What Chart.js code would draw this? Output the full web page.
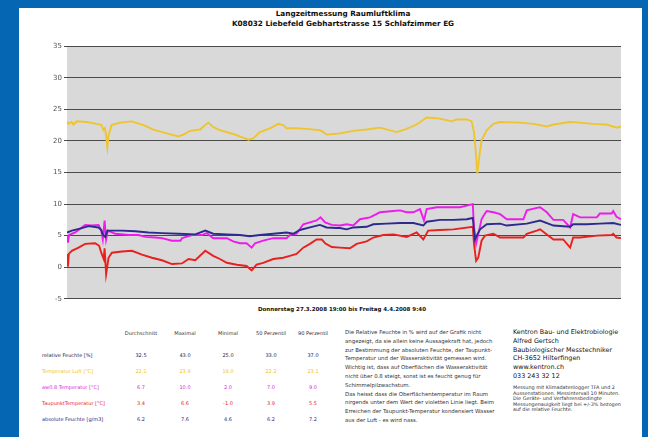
<!DOCTYPE html>
<html>
<head>
<meta charset="utf-8">
<script src="https://cdn.jsdelivr.net/npm/chart.js@4/dist/chart.umd.min.js"></script>
<style>
  body { margin:0; width:648px; height:437px; background:#0567b4; overflow:hidden; font-family:"DejaVu Sans", Tahoma, sans-serif; }
  #seite { position:absolute; left:19px; top:8px; width:623px; height:429px; background:#fff; }
  .t { position:absolute; white-space:nowrap; color:#222; }
  .c { transform:translateX(-50%); }
  #titel { left:343px; text-align:center; font-weight:bold; font-size:7.3px; line-height:10px; top:9px; color:#111; }
  #wrap { position:absolute; left:19px; top:40px; width:623px; height:265px; }
  #datum { top:306px; left:342px; font-weight:bold; font-size:5.5px; color:#111; }
  .kopf { top:330px; font-size:5.1px; color:#333; }
  .zeile { font-size:5px; }
  #text { left:345px; top:328px; font-size:5.4px; line-height:8.8px; color:#333; }
  #firma { left:513px; top:328px; font-size:6.4px; line-height:8.8px; color:#111; }
  #klein { left:513px; top:385px; font-size:4.9px; line-height:5.6px; color:#333; }
</style>
</head>
<body>
<div id="seite"></div>
<div class="t c" id="titel">Langzeitmessung Raumluftklima<br>K08032 Liebefeld Gebhartstrasse 15 Schlafzimmer EG</div>
<div id="wrap"><canvas id="myChart" width="623" height="265"></canvas></div>
<div class="t c" id="datum">Donnerstag 27.3.2008 19:00 bis Freitag 4.4.2008 9:40</div>
<div id="tabelle"></div>
<div class="t" id="text">Die Relative Feuchte in % wird auf der Grafik nicht<br>angezeigt, da sie allein keine Aussagekraft hat, jedoch<br>zur Bestimmung der absoluten Feuchte, der Taupunkt-<br>Temperatur und der Wasseraktivität gemessen wird.<br>Wichtig ist, dass auf Oberflächen die Wasseraktivität<br>nicht über 0.8 steigt, sonst ist es feucht genug für<br>Schimmelpilzwachstum.<br>Das heisst dass die Oberflächentemperatur im Raum<br>nirgends unter dem Wert der violetten Linie liegt. Beim<br>Erreichen der Taupunkt-Temperatur kondensiert Wasser<br>aus der Luft - es wird nass.</div>
<div class="t" id="firma">Kentron Bau- und Elektrobiologie<br>Alfred Gertsch<br>Baubiologischer Messtechniker<br>CH-3652 Hilterfingen<br>www.kentron.ch<br>033 243 32 12</div>
<div class="t" id="klein">Messung mit Klimadatenlogger TFA und 2<br>Aussenstationen. Messintervall 10 Minuten.<br>Die Geräte- und Verfahrensbedingte<br>Messungenauigkeit liegt bei +/-3% bezogen<br>auf die relative Feuchte.</div>
<script>
  // Stunden seit Donnerstag 27.3.2008 19:00
  var dauer = 182.67;

  var luftStunden = [0,0.4,1.5,2.1,3.2,6.5,9.8,11.4,12.0,12.5,12.9,13.3,13.7,14.7,17.5,21.3,25.2,28.5,32.9,36.7,38.4,40.6,43.9,45.5,46.6,48.2,50.4,54.8,59.8,61.4,63.6,66.9,69.7,71.3,72.4,75.7,79.0,83.4,84.5,85.6,87.8,90.0,94.4,98.8,103.2,108.7,112.0,115.3,118.6,121.9,125.2,126.8,128.5,131.8,133.4,134.2,134.8,135.3,136.0,136.7,138.4,140.6,142.8,149.4,153.8,158.2,160.4,165.9,169.2,173.5,177.9,181.3,182.67];
  var luftWerte = [23.1,22.7,23.0,22.6,23.1,23.0,22.7,22.5,21.7,22.0,20.9,19.0,20.9,22.5,22.9,23.1,22.5,21.8,21.2,20.7,21.0,21.6,21.8,22.5,22.9,22.2,21.7,21.1,20.2,20.4,21.4,22.0,22.7,22.5,22.0,22.0,21.9,21.7,21.4,21.0,21.1,21.2,21.6,21.8,22.1,21.4,21.9,22.6,23.7,23.6,23.3,23.1,23.4,23.4,23.1,21.4,18.2,14.8,17.7,20.1,21.7,22.7,23.0,22.9,22.7,22.3,22.6,23.0,22.9,22.7,22.6,22.1,22.3];

  var taupunktStunden = [0,0.3,0.6,1.6,3.8,6.0,9.3,10.6,11.3,12.1,12.4,12.9,13.7,14.8,18.1,21.4,24.7,28.0,31.3,34.6,37.9,40.1,42.3,45.6,48.2,50.4,52.7,56.0,59.2,60.9,62.5,64.7,68.0,71.3,73.5,75.7,77.9,80.1,82.3,84.0,85.1,87.3,90.0,93.3,95.5,98.8,101.0,104.3,107.6,112.0,115.3,117.5,119.1,123.0,127.4,133.8,134.2,134.9,135.6,136.7,137.8,140.6,142.8,150.5,151.6,154.9,156.0,158.2,160.4,163.6,165.9,166.9,169.2,174.7,179.6,180.1,181.2,182.67];
  var taupunktWerte = [2.1,0.1,2.1,2.6,3.1,3.7,3.8,3.4,2.3,1.3,3.0,-1.1,1.5,2.3,2.5,2.6,2.0,1.5,1.1,0.5,0.6,1.3,1.1,2.6,1.8,1.3,0.7,0.4,0.2,-0.5,0.4,0.7,1.3,1.5,1.8,2.1,3.1,3.7,4.4,4.4,3.8,3.2,3.1,3.0,3.7,4.1,4.7,5.1,5.2,4.8,5.5,4.4,5.8,5.9,6.0,6.4,3.7,1.0,1.5,4.2,5.0,5.3,4.7,4.7,5.3,5.8,6.0,5.2,4.4,4.4,3.1,4.7,4.7,5.0,5.1,5.3,4.7,4.6];

  var aw08Stunden = [0,0.3,0.7,2.7,4.9,6.0,8.2,10.4,11.3,11.8,12.4,12.9,13.5,15.9,20.3,23.6,25.8,29.1,31.3,34.6,37.4,37.9,41.2,44.5,46.1,48.2,52.7,54.8,57.0,59.2,60.9,62.0,64.7,68.0,72.4,73.5,75.7,77.9,80.1,82.3,83.6,85.1,87.3,90.0,92.2,94.4,96.6,99.9,103.2,107.6,109.8,112.0,114.2,116.4,117.7,118.6,121.9,129.6,133.8,134.2,134.9,135.6,136.7,137.3,138.4,140.6,142.8,145.0,150.5,151.6,154.9,156.0,158.2,160.4,163.6,165.9,166.9,169.2,174.7,175.7,179.6,180.1,181.2,182.67];
  var aw08Werte = [5.0,3.9,5.1,5.5,6.3,6.7,6.6,6.7,5.8,4.4,7.4,4.4,5.8,5.3,5.1,5.1,4.8,4.7,4.6,4.2,4.2,4.6,5.1,5.1,5.4,4.6,4.6,4.1,3.8,3.8,3.1,3.8,4.2,4.6,4.6,5.1,5.3,6.8,7.1,7.4,7.9,7.1,6.7,6.6,6.8,6.6,7.6,7.9,8.7,8.9,9.0,8.7,8.7,9.2,7.4,9.2,9.5,9.5,10.0,6.3,3.7,5.2,7.6,8.1,8.9,8.7,8.4,7.6,7.6,9.0,9.4,9.5,8.7,7.5,7.5,6.3,8.4,7.9,7.9,8.5,8.5,8.9,8.0,7.6];

  var absStunden = [0,1.6,4.9,7.1,10.4,11.3,11.8,12.6,13.3,13.7,18.1,22.5,26.9,31.3,36.8,42.3,45.6,48.2,52.7,57.0,60.3,63.6,68.0,72.4,74.6,76.8,80.1,83.4,85.6,88.9,90.0,92.2,94.4,98.8,101.0,105.4,109.8,114.2,117.5,118.6,123.0,127.4,131.8,133.8,134.5,135.3,136.2,138.4,142.8,145.0,151.6,156.0,160.4,165.9,166.9,171.4,175.7,180.1,182.67];
  var absWerte = [5.5,5.8,6.2,6.5,6.3,5.9,5.2,4.8,5.8,5.8,5.8,5.7,5.5,5.4,5.3,5.2,5.8,5.3,5.2,5.1,4.9,5.1,5.3,5.5,5.3,5.9,6.3,6.7,6.3,6.2,6.2,6.0,6.3,6.4,6.8,6.9,7.0,7.0,6.6,7.2,7.5,7.5,7.6,7.8,4.4,5.2,6.0,6.8,6.9,6.6,6.9,7.4,6.6,6.4,6.8,6.8,6.9,7.0,6.7];

  var yTicks = [-5,0,5,10,15,20,25,30,35];

  // Tabelle
  var spalten = ["Durchschnitt","Maximal","Minimal","50 Perzentil","90 Perzentil"];
  var zeilen = ["relative Feuchte [%]","Temperatur Luft [°C]","aw0.8 Temperatur [°C]","TaupunktTemperatur [°C]","absolute Feuchte [g/m3]"];
  var tabWerte = [
    ["32.5","43.0","25.0","33.0","37.0"],
    ["22.1","23.9","19.0","22.2","23.1"],
    ["6.7","10.0","2.0","7.0","9.0"],
    ["3.4","6.6","-1.0","3.9","5.5"],
    ["6.2","7.6","4.6","6.2","7.2"]
  ];
  var zeilenFarben = ["#1c1c4a","#f0c419","#d51fd5","#e5231f","#2a2a86"];
  var spaltenX = [141,185,228,271,313];
  var zeilenY = [352,368,384,400,416];

  var tab = document.getElementById('tabelle');
  var html = '';
  for (var j = 0; j < spalten.length; j++) {
    html += '<div class="t c kopf" style="left:'+spaltenX[j]+'px">'+spalten[j]+'</div>';
  }
  for (var i = 0; i < zeilen.length; i++) {
    html += '<div class="t zeile" style="left:42px;top:'+zeilenY[i]+'px;color:'+zeilenFarben[i]+'">'+zeilen[i]+'</div>';
    for (var j = 0; j < spalten.length; j++) {
      html += '<div class="t c zeile" style="left:'+spaltenX[j]+'px;top:'+zeilenY[i]+'px;color:'+zeilenFarben[i]+'">'+tabWerte[i][j]+'</div>';
    }
  }
  tab.innerHTML = html;

  function punkte(xs, ys) {
    return xs.map(function (x, i) { return {x: x, y: ys[i]}; });
  }

  var hintergrund = {
    id: 'hintergrund',
    beforeDraw: function (chart) {
      var a = chart.chartArea, ctx = chart.ctx;
      ctx.save();
      ctx.fillStyle = '#d9d9d9';
      ctx.fillRect(a.left, a.top, a.right - a.left, a.bottom - a.top);
      ctx.restore();
    }
  };

  var ctx = document.getElementById('myChart').getContext('2d');
  var chart = new Chart(ctx, {
    type: 'line',
    data: {
      datasets: [
        { label: 'Temperatur Luft [°C]', data: punkte(luftStunden, luftWerte), borderColor: '#eec530', order: 4 },
        { label: 'Taupunkt-Temperatur [°C]', data: punkte(taupunktStunden, taupunktWerte), borderColor: '#e8201e', order: 3 },
        { label: 'aw0.8 Temperatur [°C]', data: punkte(aw08Stunden, aw08Werte), borderColor: '#ec1cec', order: 2 },
        { label: 'absolute Feuchte [g/m3]', data: punkte(absStunden, absWerte), borderColor: '#2d2a8e', order: 1 }
      ]
    },
    options: {
      responsive: false,
      animation: false,
      layout: { padding: { left: 0, right: 21, top: 6, bottom: 5 } },
      elements: { point: { radius: 0 }, line: { borderWidth: 1.9, tension: 0 } },
      plugins: { legend: { display: false }, tooltip: { enabled: false } },
      scales: {
        x: { type: 'linear', min: 0, max: dauer, display: false },
        y: {
          min: -5, max: 35,
          afterBuildTicks: function (s) { s.ticks = yTicks.map(function (v) { return {value: v}; }); },
          afterFit: function (s) { s.width = 48; },
          grid: { color: '#4a4a4a', lineWidth: 1, tickLength: 3 },
          border: { display: false },
          ticks: { color: '#555', font: { size: 7, family: 'DejaVu Sans' }, padding: 2 }
        }
      }
    },
    plugins: [hintergrund]
  });
</script>
</body>
</html>
